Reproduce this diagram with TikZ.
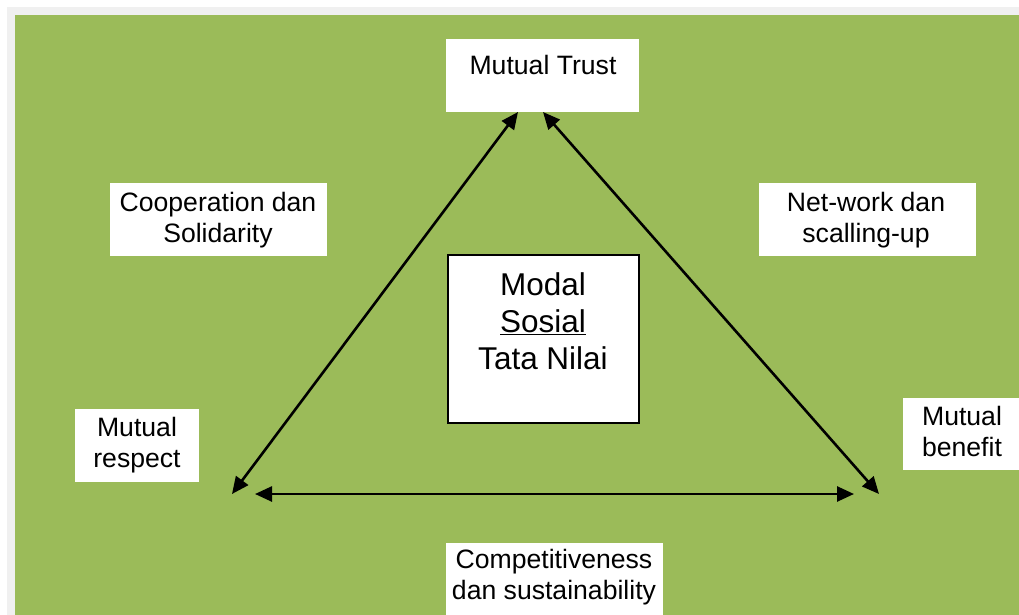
\documentclass[tikz,border=0pt]{standalone}
\usepackage{fontspec}
\setmainfont{Liberation Sans}
\usetikzlibrary{arrows.meta}
\definecolor{pagegray}{HTML}{F0F0F0}
\definecolor{olive}{HTML}{9BBB59}
\begin{document}
\begin{tikzpicture}[x=1pt,y=-1pt,
  panel/.style={fill=white,draw=none,inner sep=0pt,outer sep=0pt},
  core/.style={fill=white,draw=black,line width=2pt,inner sep=0pt},
  txt/.style={align=center,inner sep=0pt,font=\fontsize{26.6}{31}\selectfont},
  bigtxt/.style={align=center,inner sep=0pt,font=\fontsize{31.5}{37}\selectfont},
  link/.style={line width=2.6pt,{Triangle[length=17pt,width=15pt]}-{Triangle[length=17pt,width=15pt]}}]
  % page frame and background
  \useasboundingbox (0,0) rectangle (1019,615);
  \fill[white] (0,0) rectangle (1019,615);
  \fill[pagegray] (7,7) rectangle (1019,615);
  \fill[olive] (15,15) rectangle (1019,615);

  % white panels
  \node[panel,minimum width=193pt,minimum height=73pt] (trustbox) at (542.5,75.5) {};
  \node[panel,minimum width=217pt,minimum height=73pt] (coopbox) at (218.5,219.5) {};
  \node[panel,minimum width=217pt,minimum height=73pt] (netbox) at (867.5,219.5) {};
  \node[panel,minimum width=124pt,minimum height=73pt] (respbox) at (137,445.5) {};
  \node[panel,minimum width=116pt,minimum height=72pt] (benbox) at (961,434) {};
  \node[panel,minimum width=217pt,minimum height=72pt] (compbox) at (554.5,579) {};
  \node[core,minimum width=191pt,minimum height=168pt] (corebox) at (543,338.5) {};

  % labels
  \node[txt] (trust) at (543,65) {Mutual Trust};
  \node[txt] (coop) at (218,220) {Cooperation dan\\Solidarity};
  \node[txt] (net) at (866,220) {Net-work dan\\scalling-up};
  \node[txt] (resp) at (137,445.5) {Mutual\\respect};
  \node[txt] (ben) at (962,431.5) {Mutual\\benefit};
  \node[txt] (comp) at (554,577) {Competitiveness\\dan sustainability};
  \node[bigtxt] (core) at (543,321) {Modal\\\underline{Sosial}\\Tata Nilai};

  % arrow end points
  \coordinate (topL) at (518,112);
  \coordinate (topR) at (543,112);
  \coordinate (botL) at (232,494);
  \coordinate (botR) at (879,494);
  \coordinate (baseL) at (255,494);
  \coordinate (baseR) at (854,494);

  % triangle of two-way arrows
  \draw[link] (botL) -- (topL);
  \draw[link] (topR) -- (botR);
  \draw[link] (baseL) -- (baseR);
\end{tikzpicture}
\end{document}
